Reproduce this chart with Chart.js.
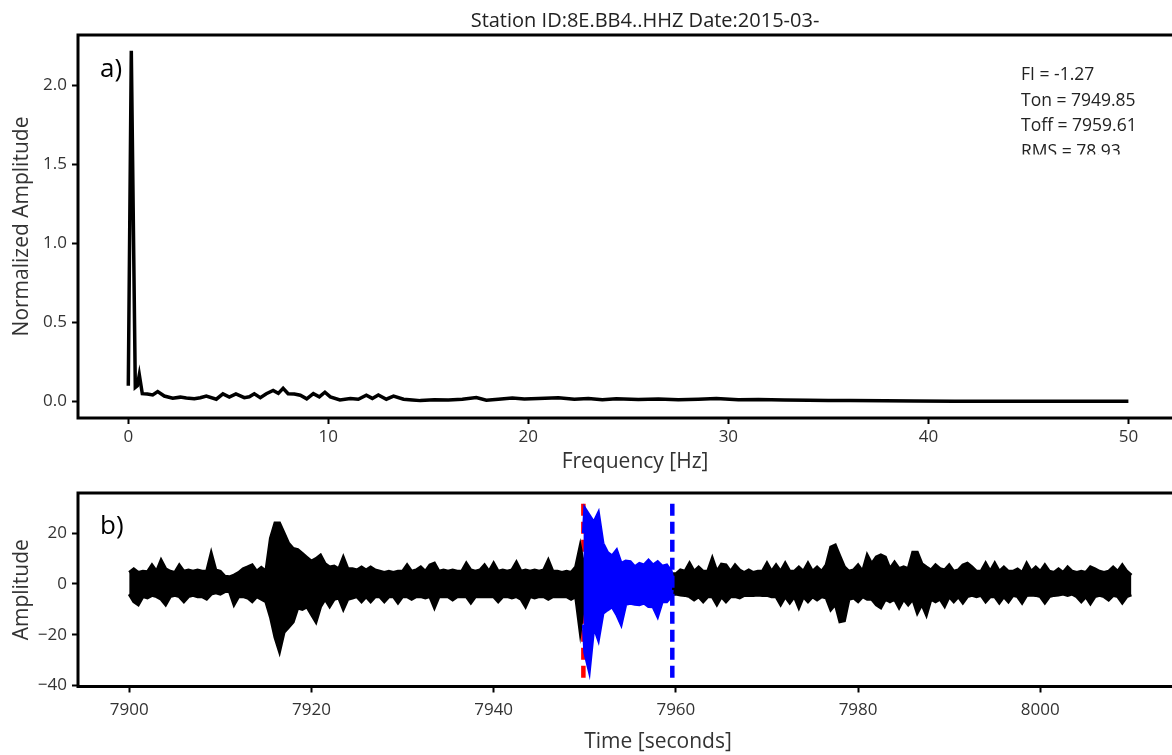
<!DOCTYPE html>
<html>
<head>
<meta charset="utf-8">
<script src="https://cdn.jsdelivr.net/npm/chart.js@4.4.1/dist/chart.umd.min.js"></script>
<style>
html, body { margin: 0; padding: 0; background: #fff; overflow: hidden; }
#wrap { position: relative; width: 1172px; height: 755px; overflow: hidden; }
#spectrumCanvas { position: absolute; left: 0; top: 0; }
#traceCanvas { position: absolute; left: 0; top: 470px; }
</style>
</head>
<body>
<div id="wrap">
  <canvas id="spectrumCanvas" width="1192" height="480"></canvas>
  <canvas id="traceCanvas" width="1238" height="285"></canvas>
</div>
<script>
// a) amplitude spectrum
const freqs = [0, 0.15, 0.35, 0.45, 0.55, 0.7, 0.95, 1.22, 1.47, 1.8, 2.22, 2.6, 2.9, 3.3, 3.6, 3.9, 4.4, 4.73, 5.05, 5.38,
  5.8, 6.05, 6.3, 6.6, 6.9, 7.24, 7.5, 7.74, 7.99, 8.3, 8.6, 8.92, 9.25, 9.55, 9.83, 10.1, 10.58, 11.1, 11.5, 11.9,
  12.2, 12.5, 12.9, 13.26, 13.76, 14.2, 14.6, 15.3, 16, 16.7, 17.4, 17.9, 18.5, 19.2, 19.8, 20.5, 21.5, 22.3, 23, 23.7,
  24.4, 25.5, 26.5, 27.5, 28.5, 29.4, 30.5, 31.5, 32.8, 34, 35, 36.1, 37.8, 39.3, 41.3, 44, 47, 50];
const spectrumAmp = [0.1, 2.22, 0.09, 0.1, 0.17, 0.05, 0.048, 0.042, 0.063, 0.035, 0.021, 0.028, 0.022, 0.018, 0.024, 0.035, 0.015, 0.049, 0.028, 0.049,
  0.025, 0.03, 0.049, 0.025, 0.05, 0.07, 0.052, 0.084, 0.05, 0.048, 0.04, 0.017, 0.05, 0.03, 0.059, 0.03, 0.01, 0.02, 0.015, 0.04,
  0.02, 0.042, 0.015, 0.035, 0.015, 0.01, 0.006, 0.012, 0.01, 0.015, 0.025, 0.008, 0.015, 0.022, 0.016, 0.02, 0.024, 0.014, 0.02, 0.012,
  0.018, 0.013, 0.017, 0.011, 0.015, 0.02, 0.012, 0.013, 0.01, 0.009, 0.007, 0.006, 0.005, 0.004, 0.002, 0.002, 0.002, 0.002];
const freqTicks = [0, 10, 20, 30, 40, 50];
const spectrumTicks = [0, 0.5, 1.0, 1.5, 2.0];

// b) waveform, drawn as its max / min envelope every 0.5 s
const traceStart = 7900;
const traceStep = 0.5;
const traceUpper = [
  4.5, 5.9, 4.5, 5, 4.8, 7.5, 5, 9.4, 6, 5, 4.5, 7.5, 5, 5.5, 5, 5.5, 5, 5, 12.2, 5.5,
  5, 3, 2.8, 3.5, 4.5, 6, 6.7, 7.5, 5, 6.5, 5, 18, 24, 24, 20, 16, 14, 13.5, 12, 10.5,
  9, 10, 11.4, 8, 6.7, 7, 6, 10.6, 6, 6, 5.5, 6.7, 5.5, 6.7, 5.5, 5, 4.5, 5, 4.5, 5,
  5, 7.5, 5, 5.5, 6.7, 5, 7.5, 8.2, 5, 5.5, 5, 5.5, 5, 5, 8.2, 5.5, 5, 5.5, 7.5, 5,
  8.2, 5, 5.5, 5, 5.5, 8.6, 5, 5.5, 5, 5.5, 5, 5.5, 9.4, 5, 5, 4.5, 5, 4.5, 6.7, 15,
  5, 6, 5, 6, 5, 5, 6, 5, 5, 6, 5, 5, 6, 5, 5, 5, 6, 5, 5, 4,
  4, 5.5, 5, 8.2, 5, 6.7, 5, 5, 10.2, 5, 7.8, 7.5, 5, 7.5, 5.5, 4.5, 5.5, 4.5, 5, 5,
  8.2, 5, 7.5, 5, 8.2, 5, 5, 6.7, 5, 8.2, 5, 6.7, 5, 7.5, 14.5, 15.3, 11, 6.7, 5, 5.5,
  7.5, 5, 11.4, 8, 10.6, 11.4, 10.6, 6, 8.6, 6, 6.7, 6, 12.5, 12.5, 8, 6.7, 5.5, 7.5, 6, 5.5,
  7.5, 5, 5.5, 7.5, 8.2, 6.7, 5, 5, 8.2, 5, 8.2, 5, 6.7, 5, 5, 5.9, 4.5, 8.2, 5, 6.7,
  5, 7.5, 5, 4.5, 5.9, 4.5, 6.7, 5, 4.5, 5, 4.5, 6.7, 5.9, 5, 4.5, 5, 6.7, 5, 7.5, 5, 3.5
];
const traceLower = [
  -4, -7, -8.2, -5, -5.5, -4.5, -5, -6, -8.2, -5, -4.5, -5, -7, -5, -4.5, -5, -5, -6, -4, -3.5,
  -4, -3, -3, -8.2, -5, -5, -5.5, -7, -5, -6, -7, -13, -21, -26.7, -19, -17, -15, -9.5, -10, -9,
  -12, -15, -9, -6, -8.9, -6, -5.5, -10, -6, -5.5, -5, -7, -5, -7, -5, -5, -7, -5, -5, -7.5,
  -5, -5, -6, -5, -5, -5.5, -5, -9.4, -5, -5, -5, -6.3, -5, -5, -5, -7.5, -5, -5, -5, -5,
  -5, -7, -5, -5, -5.5, -5, -6, -9, -5, -5.5, -5, -5, -6, -5, -5, -5, -5, -6, -5, -19,
  -5, -6, -5, -6, -5, -5, -6, -5, -5, -6, -5, -5, -6, -5, -5, -5, -6, -5, -5, -4,
  -4, -4.3, -4.5, -5, -6.3, -5, -7, -5, -5, -8.2, -5, -7, -5, -5, -5.5, -4.5, -4.5, -4.5, -4.3, -4.5,
  -4.5, -5, -5, -8.2, -5, -7.5, -5, -9.4, -5, -7, -5, -6.3, -5, -5.5, -10.2, -8, -14.9, -14.5, -6, -5.5,
  -7, -5, -6, -6, -8.2, -9.4, -6, -7, -6, -9.4, -6, -8.2, -6, -11.5, -8, -12.2, -6, -7, -6, -8.8,
  -5, -7, -5, -7.5, -5, -4.5, -5, -4.5, -7, -5, -5, -7.5, -5, -7, -4.5, -5, -7.5, -4.5, -4.3, -4.5,
  -5, -7.5, -5, -4.5, -4.3, -4, -4.5, -4, -5, -7, -5, -7.8, -5, -4.5, -5, -6.3, -4.5, -5, -7.5, -5, -4.3
];

// event window between Ton and Toff (blue)
const eventTimes = [7949.85, 7950, 7950.5, 7951, 7951.5, 7952, 7952.5, 7953, 7953.5, 7954, 7954.5,
  7955, 7955.5, 7956, 7956.5, 7957, 7957.5, 7958, 7958.5, 7959, 7959.5, 7959.61];
const eventUpper = [20, 29.8, 27, 24.3, 28, 16, 12.4, 11, 13.3, 8.1, 9, 8.8, 6.8, 8.1, 7.5, 9.4, 7.5, 8.8, 7, 7.5, 5, 2.9];
const eventLower = [-16, -27, -34.4, -16.8, -22, -11.5, -10.2, -9, -12, -16, -8, -7.6, -8, -8.2, -7.5, -8.9, -9, -12.8, -7, -7, -5, -2.4];

const tOn = 7949.85;
const tOff = 7959.61;
const markerRange = [-36.9, 31.8];
const timeTicks = [7900, 7920, 7940, 7960, 7980, 8000];
const traceTicks = [-40, -20, 0, 20];

const statLines = ['FI = -1.27', 'Ton = 7949.85', 'Toff = 7959.61', 'RMS = 78.93'];
const figTitle = 'Station ID:8E.BB4..HHZ Date:2015-03-';

const FONT = "'Open Sans', sans-serif";

var framePlugin = {
    id: 'frame',
    afterDraw: function (chart) {
        var ctx = chart.ctx, a = chart.chartArea;
        ctx.save();
        ctx.lineWidth = 3;
        ctx.strokeStyle = '#000';
        ctx.strokeRect(a.left, a.top, a.right - a.left, a.bottom - a.top);
        ctx.restore();
    }
};

var panelTextPlugin = {
    id: 'panelText',
    afterDraw: function (chart, args, opts) {
        var ctx = chart.ctx;
        ctx.save();
        ctx.fillStyle = '#000';
        ctx.font = '26px ' + FONT;
        ctx.textAlign = 'left';
        ctx.textBaseline = 'middle';
        ctx.fillText(opts.label, opts.labelX, opts.labelY);
        if (opts.title) {
            ctx.fillStyle = '#222';
            ctx.font = '20px ' + FONT;
            ctx.textAlign = 'center';
            ctx.fillText(opts.title, 645, 21);
        }
        if (opts.lines) {
            // the stats box is cut off at the bottom in the original
            ctx.beginPath();
            ctx.rect(1000, 40, 190, 114.5);
            ctx.clip();
            ctx.fillStyle = '#222';
            ctx.font = '17.5px ' + FONT;
            ctx.textAlign = 'left';
            opts.lines.forEach(function (line, i) {
                ctx.fillText(line, 1021, 75 + i * 25.6);
            });
        }
        ctx.restore();
    }
};

function fixedTicks(values) {
    return function (scale) {
        scale.ticks = values.map(v => ({ value: v }));
    };
}

function axisGrid() {
    return {
        display: true,
        drawOnChartArea: false,
        drawTicks: true,
        tickLength: 6,
        tickWidth: 2,
        tickColor: '#000'
    };
}

function minusLabel(v) {
    return v < 0 ? '\u2212' + Math.abs(v) : String(v);
}

// top chart
new Chart(document.getElementById('spectrumCanvas').getContext('2d'), {
    type: 'line',
    data: {
        datasets: [{
            label: 'spectrum',
            data: freqs.map((f, i) => ({ x: f, y: spectrumAmp[i] })),
            borderColor: '#000',
            borderWidth: 3.5,
            pointRadius: 0,
            tension: 0,
            fill: false
        }]
    },
    options: {
        responsive: false,
        animation: false,
        devicePixelRatio: 1,
        layout: { padding: { top: 35, left: 0, right: 0, bottom: 0 } },
        plugins: {
            legend: { display: false },
            tooltip: { enabled: false },
            panelText: { label: 'a)', labelX: 100, labelY: 70, title: figTitle, lines: statLines }
        },
        scales: {
            x: {
                type: 'linear',
                min: -2.515,
                max: 53.18,
                afterBuildTicks: fixedTicks(freqTicks),
                afterFit: function (s) { s.height = 62; },
                grid: axisGrid(),
                border: { display: false },
                ticks: { color: '#333', font: { family: FONT, size: 17 }, padding: 3, maxRotation: 0, callback: v => String(v) },
                title: { display: true, text: 'Frequency [Hz]', color: '#333', font: { family: FONT, size: 21 }, padding: { top: 0, bottom: 5 } }
            },
            y: {
                type: 'linear',
                min: -0.104,
                max: 2.32,
                afterBuildTicks: fixedTicks(spectrumTicks),
                afterFit: function (s) { s.width = 78; },
                grid: axisGrid(),
                border: { display: false },
                ticks: { color: '#333', font: { family: FONT, size: 17 }, padding: 5, callback: v => v.toFixed(1) },
                title: { display: true, text: 'Normalized Amplitude', color: '#333', font: { family: FONT, size: 21 }, padding: { top: 9, bottom: 0 } }
            }
        }
    },
    plugins: [framePlugin, panelTextPlugin]
});

// bottom chart
var traceUpperPts = traceUpper.map((v, i) => ({ x: traceStart + i * traceStep, y: v }));
var traceLowerPts = traceLower.map((v, i) => ({ x: traceStart + i * traceStep, y: v }));
var eventUpperPts = eventTimes.map((t, i) => ({ x: t, y: eventUpper[i] }));
var eventLowerPts = eventTimes.map((t, i) => ({ x: t, y: eventLower[i] }));

new Chart(document.getElementById('traceCanvas').getContext('2d'), {
    type: 'line',
    data: {
        datasets: [
            {
                label: 'Ton',
                data: [{ x: tOn, y: markerRange[0] }, { x: tOn, y: markerRange[1] }],
                borderColor: '#ff0000', borderWidth: 4.5, borderDash: [12, 6],
                pointRadius: 0, fill: false, order: 6
            },
            {
                label: 'trace max',
                data: traceUpperPts,
                borderColor: '#000', backgroundColor: '#000', borderWidth: 3,
                pointRadius: 0, tension: 0, fill: '+1', order: 5
            },
            {
                label: 'trace min',
                data: traceLowerPts,
                borderColor: '#000', borderWidth: 3,
                pointRadius: 0, tension: 0, fill: false, order: 4
            },
            {
                label: 'event max',
                data: eventUpperPts,
                borderColor: '#0000ff', backgroundColor: '#0000ff', borderWidth: 3,
                pointRadius: 0, tension: 0, fill: '+1', order: 3
            },
            {
                label: 'event min',
                data: eventLowerPts,
                borderColor: '#0000ff', borderWidth: 3,
                pointRadius: 0, tension: 0, fill: false, order: 2
            },
            {
                label: 'Toff',
                data: [{ x: tOff, y: markerRange[0] }, { x: tOff, y: markerRange[1] }],
                borderColor: '#0000ff', borderWidth: 4.5, borderDash: [12, 6],
                pointRadius: 0, fill: false, order: 1
            }
        ]
    },
    options: {
        responsive: false,
        animation: false,
        devicePixelRatio: 1,
        layout: { padding: { top: 23, left: 0, right: 0, bottom: 0 } },
        plugins: {
            legend: { display: false },
            tooltip: { enabled: false },
            panelText: { label: 'b)', labelX: 100, labelY: 57 }
        },
        scales: {
            x: {
                type: 'linear',
                min: 7894.38,
                max: 8021.7,
                afterBuildTicks: fixedTicks(timeTicks),
                afterFit: function (s) { s.height = 68.5; },
                grid: axisGrid(),
                border: { display: false },
                ticks: { color: '#333', font: { family: FONT, size: 17 }, padding: 7, maxRotation: 0, callback: v => String(v) },
                title: { display: true, text: 'Time [seconds]', color: '#333', font: { family: FONT, size: 21 }, padding: { top: 0, bottom: 0 } }
            },
            y: {
                type: 'linear',
                min: -40.35,
                max: 35.8,
                afterBuildTicks: fixedTicks(traceTicks),
                afterFit: function (s) { s.width = 78; },
                grid: axisGrid(),
                border: { display: false },
                ticks: { color: '#333', font: { family: FONT, size: 17 }, padding: 5, callback: minusLabel },
                title: { display: true, text: 'Amplitude', color: '#333', font: { family: FONT, size: 21 }, padding: { top: 9, bottom: 0 } }
            }
        }
    },
    plugins: [framePlugin, panelTextPlugin]
});
</script>
</body>
</html>
